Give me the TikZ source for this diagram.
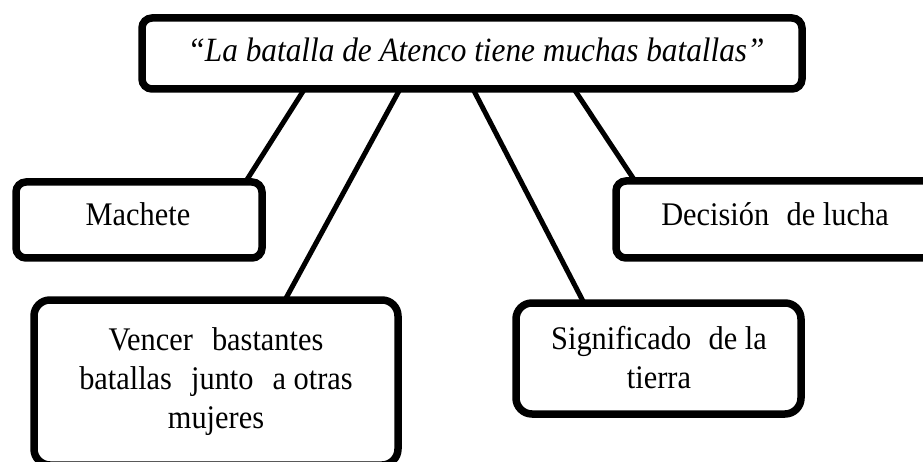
\documentclass[tikz,border=0pt]{standalone}
\usepackage{fontspec}
\setmainfont{Liberation Serif}[FakeStretch=0.92]
\begin{document}
\begin{tikzpicture}[x=1pt,y=-1pt,
  box/.style={draw=black, line width=7.5pt, rounded corners=10pt, fill=white,
    inner sep=0pt, outer sep=0pt, rectangle},
  bigbox/.style={box, rounded corners=16pt},
  txt/.style={anchor=base, inner sep=0pt, align=center,
    font=\fontsize{33}{39}\selectfont},
  conn/.style={draw=black, line width=5pt}]
\useasboundingbox (0,0) rectangle (923,462);
\node[box, minimum width=660pt, minimum height=71pt] (top) at (472,53.5) {};
\node[box, minimum width=246pt, minimum height=76pt] (mach) at (139,220) {};
\node[box, minimum width=318pt, minimum height=77pt] (deci) at (775,219.5) {};
\node[bigbox, minimum width=364pt, minimum height=165pt] (venc) at (216,382.5) {};
\node[bigbox, minimum width=285pt, minimum height=111pt] (sign) at (658.5,358.5) {};

\node[txt, font=\fontsize{34}{39}\selectfont\itshape] (ttop) at (476,62) {“La batalla de Atenco tiene muchas batallas”};
\node[txt] (tmach) at (138,226) {Machete};
\node[txt] (tdeci) at (775,226) {Decisión\hspace{0.3em} de lucha};
\node[txt] (tvenc) at (216,428) {Vencer\hspace{0.35em} bastantes\\batallas\hspace{0.35em} junto\hspace{0.35em} a otras\\mujeres};
\node[txt] (tsign) at (659,388) {Significado\hspace{0.3em} de la\\tierra};

\draw[conn] ([xshift=162.5pt]top.south west) -- ([xshift=229.5pt]mach.north west);
\draw[conn] ([xshift=258pt]top.south west) -- ([xshift=251pt]venc.north west);
\draw[conn] ([xshift=331pt]top.south west) -- ([xshift=68pt]sign.north west);
\draw[conn] ([xshift=432pt]top.south west) -- ([xshift=19pt]deci.north west);
\end{tikzpicture}
\end{document}
